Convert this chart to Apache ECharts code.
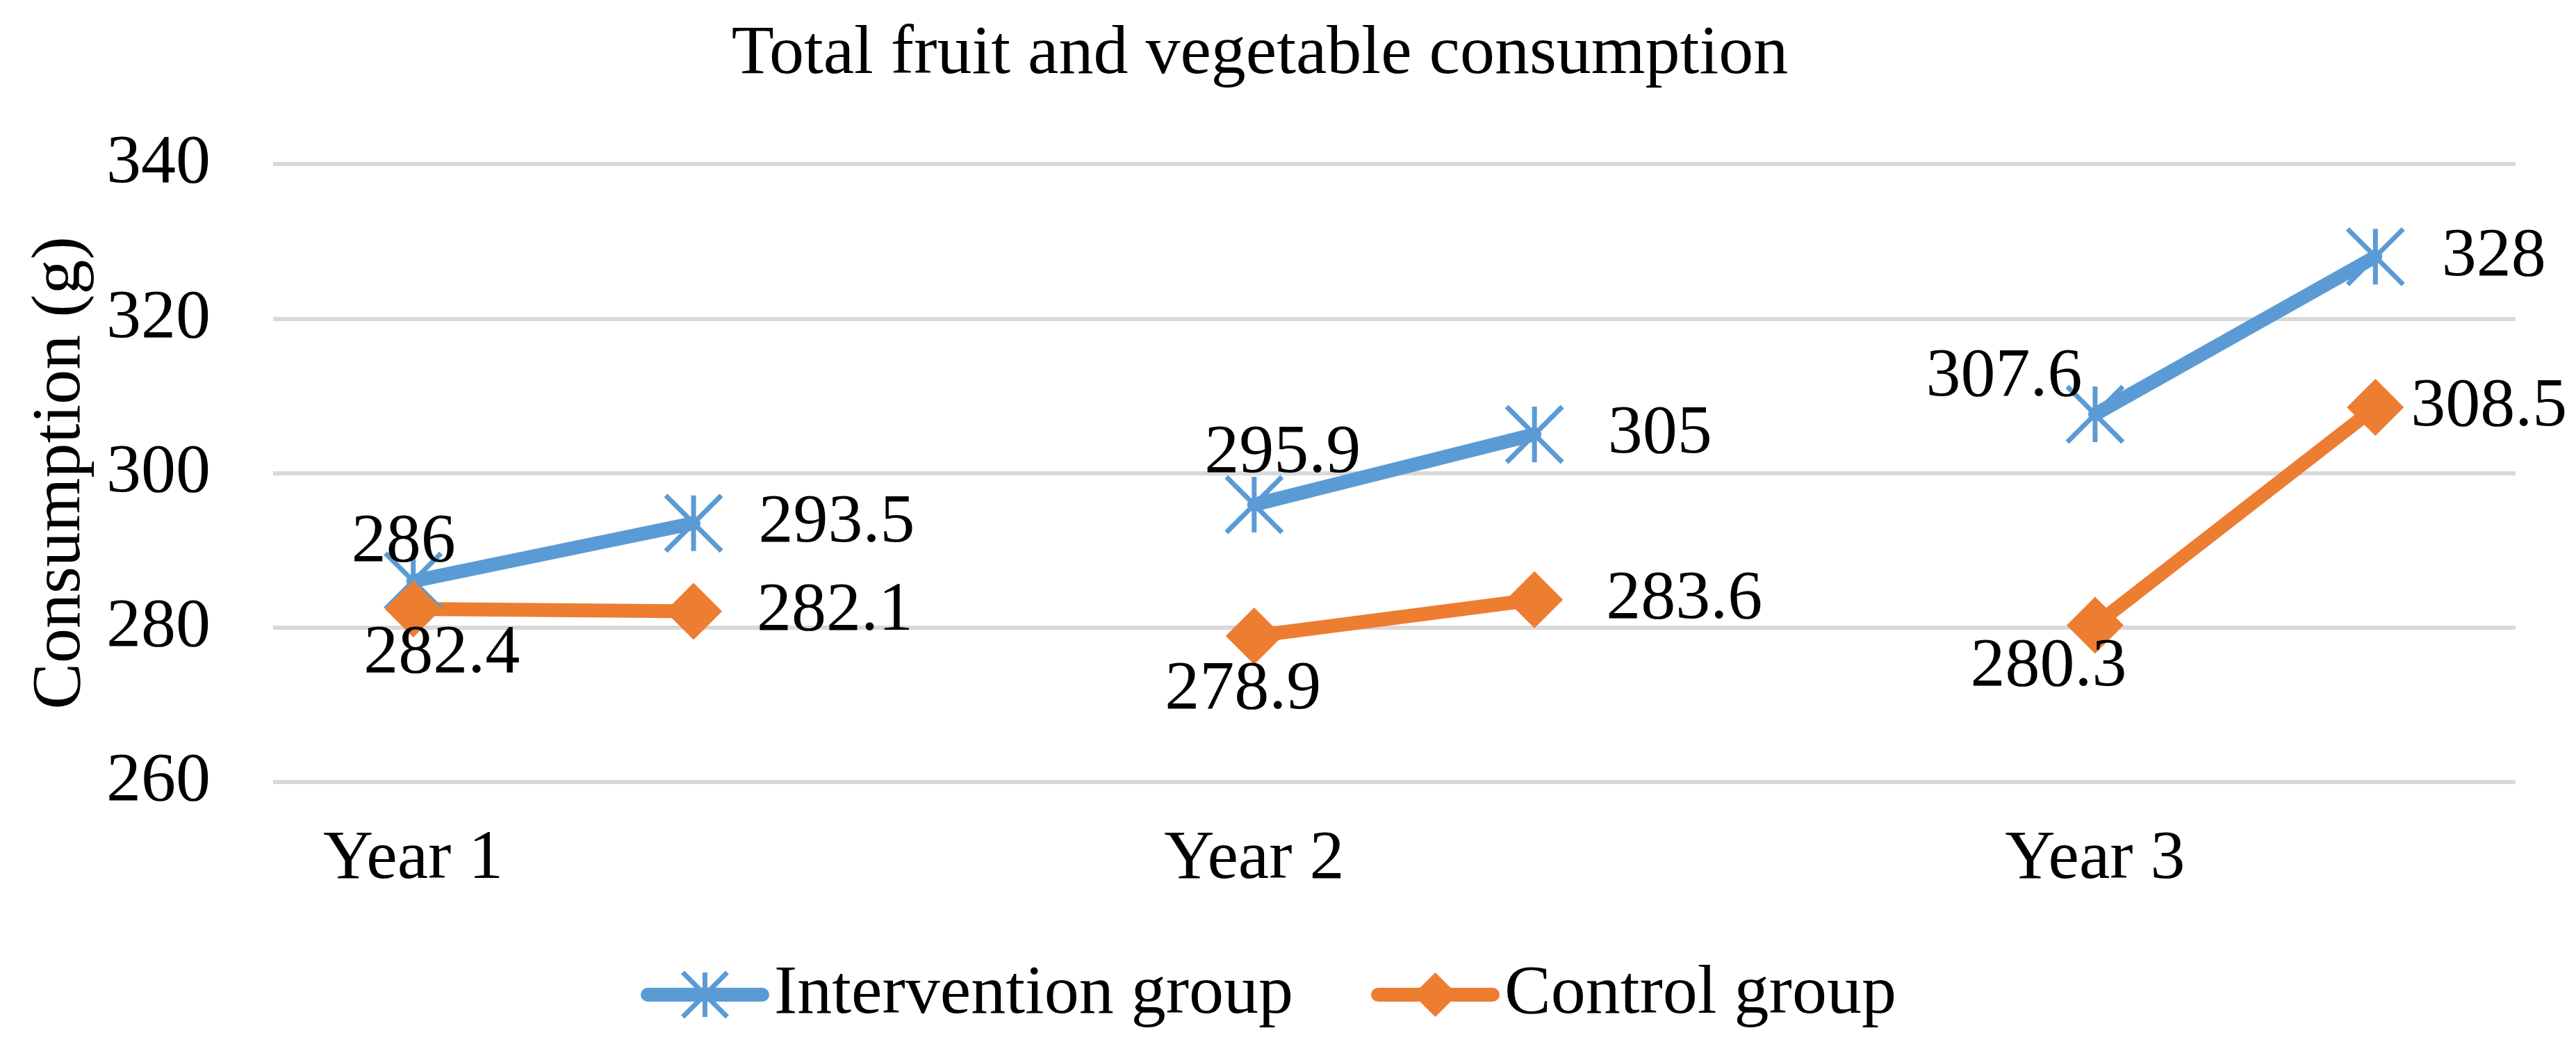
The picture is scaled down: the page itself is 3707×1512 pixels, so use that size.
<!DOCTYPE html>
<html>
<head>
<meta charset="utf-8">
<style>
html,body{margin:0;padding:0;background:#fff;}
#chart{width:3707px;height:1512px;}
</style>
<script src="https://cdn.jsdelivr.net/npm/echarts@6/dist/echarts.min.js"></script>
</head>
<body>
<div id="chart"></div>
<script>
// ---- data ----
var categories = ['Year 1', '', '', 'Year 2', '', '', 'Year 3', ''];
var interventionValues = [286, 293.5, null, 295.9, 305, null, 307.6, 328];
var controlValues = [282.4, 282.1, null, 278.9, 283.6, null, 280.3, 308.5];
var yTicks = { min: 260, max: 340, interval: 20 };
var seriesNames = ['Intervention group', 'Control group'];
var titleText = 'Total fruit and vegetable consumption';
var yAxisName = 'Consumption (g)';

// ---- label placement (layout, separate from data) ----
var interventionLabelLayout = [
  { position: 'inside', offset: [-14, -55] },
  { position: 'right', distance: 50 },
  null,
  { position: 'inside', offset: [41, -73] },
  { position: 'right', distance: 62 },
  null,
  { position: 'inside', offset: [-131, -53] },
  { position: 'right', distance: 52 }
];
var controlLabelLayout = [
  { position: 'inside', offset: [41, 65] },
  { position: 'right', distance: 50 },
  null,
  { position: 'inside', offset: [-16, 78] },
  { position: 'right', distance: 62 },
  null,
  { position: 'inside', offset: [-67, 60] },
  { position: 'right', distance: 10 }
];

var FONT = 'Liberation Serif';
var BLUE = '#5B9BD5';
var ORANGE = '#ED7D31';
var STAR = 'path://M0,0L10,10M10,0L0,10M5,0L5,10';

function buildData(values, layout) {
  return values.map(function (v, i) {
    if (v === null) return null;
    var l = layout[i] || {};
    return { value: v, label: l };
  });
}

var chart = echarts.init(document.getElementById('chart'), null, { renderer: 'canvas' });
var labelBase = {
  show: true,
  fontFamily: FONT,
  fontSize: 100,
  color: '#000'
};
chart.setOption({
  animation: false,
  backgroundColor: '#fff',
  title: {
    text: titleText,
    left: 1808,
    top: 24,
    textAlign: 'center',
    textStyle: { fontFamily: FONT, fontSize: 100, fontWeight: 'normal', color: '#000' }
  },
  legend: {
    data: [
      { name: seriesNames[0], itemStyle: { borderWidth: 7, borderColor: BLUE } },
      { name: seriesNames[1] }
    ],
    left: 922,
    top: 1381,
    padding: 0,
    itemWidth: 165,
    itemHeight: 80,
    itemGap: 112,
    textStyle: { fontFamily: FONT, fontSize: 100, color: '#000', padding: [0, 0, 0, 12] },
    lineStyle: { width: 20, cap: 'round' }
  },
  grid: { left: 393, right: 87, top: 236, bottom: 387, containLabel: false, outerBoundsMode: 'none' },
  xAxis: {
    type: 'category',
    data: categories,
    boundaryGap: true,
    axisLine: { show: false },
    axisTick: { show: false },
    axisLabel: { interval: 0, margin: 62, fontFamily: FONT, fontSize: 100, color: '#000' },
    splitLine: { show: false }
  },
  yAxis: {
    type: 'value',
    min: yTicks.min,
    max: yTicks.max,
    interval: yTicks.interval,
    name: yAxisName,
    nameLocation: 'middle',
    nameGap: 255,
    nameMoveOverlap: false,
    nameTextStyle: { fontFamily: FONT, fontSize: 100, color: '#000' },
    axisLine: { show: false },
    axisTick: { show: false },
    axisLabel: { margin: 90, fontFamily: FONT, fontSize: 100, color: '#000' },
    splitLine: { show: true, lineStyle: { color: '#D9D9D9', width: 6 } }
  },
  series: [
    {
      name: seriesNames[0],
      type: 'line',
      data: buildData(interventionValues, interventionLabelLayout),
      connectNulls: false,
      symbol: STAR,
      symbolSize: 80,
      showAllSymbol: true,
      lineStyle: { color: BLUE, width: 20, cap: 'round' },
      itemStyle: { color: BLUE, borderColor: BLUE, borderWidth: 7 },
      label: labelBase,
      emphasis: { disabled: true }
    },
    {
      name: seriesNames[1],
      type: 'line',
      data: buildData(controlValues, controlLabelLayout),
      connectNulls: false,
      symbol: 'diamond',
      symbolSize: 82,
      showAllSymbol: true,
      lineStyle: { color: ORANGE, width: 20, cap: 'round' },
      itemStyle: { color: ORANGE, borderColor: ORANGE, borderWidth: 0 },
      label: labelBase,
      emphasis: { disabled: true }
    }
  ]
});
</script>
</body>
</html>
